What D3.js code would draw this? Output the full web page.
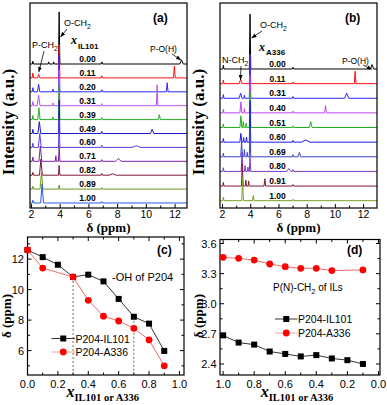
<!DOCTYPE html>
<html>
<head>
<meta charset="utf-8">
<script src="https://d3js.org/d3.v7.min.js"></script>
<style>
  body { margin: 0; background: #fff; }
  svg { display: block; }
  text { font-family: Arial, "Liberation Sans", sans-serif; fill: #000; }
  .serif { font-family: "Times New Roman", "Liberation Serif", serif; font-weight: bold; }
</style>
</head>
<body>
<script>
// ---- data ----
// (a) P204 + IL101 spectra, one list of peaks [ppm, height, half width] per mole fraction
const fracIL = ["0.00", "0.11", "0.20", "0.31", "0.39", "0.49", "0.60", "0.71", "0.82", "0.89", "1.00"];
const colorsIL = ["#000000", "#ff1010", "#2a2aff", "#c050f0", "#20b020", "#1a1acc",
                  "#5a3ee0", "#7a20a8", "#801838", "#6a9a20", "#2a5aee"];
const peaksIL = [
  [[2.1, 0.2, 0.04], [3.2, 0.15, 0.04], [3.55, 0.15, 0.04], [3.93, 3.75, 0.05], [6.9, 0.15, 0.05], [12.45, 0.3, 0.12]],
  [[2.1, 0.35, 0.05], [2.5, 0.25, 0.08], [3.93, 2.4, 0.05], [6.9, 0.15, 0.05], [11.95, 0.85, 0.06]],
  [[2.1, 0.3, 0.05], [2.5, 0.55, 0.08], [3.5, 0.2, 0.04], [3.93, 2.7, 0.05], [6.9, 0.15, 0.05], [11.45, 0.65, 0.06]],
  [[2.1, 0.3, 0.05], [2.5, 0.75, 0.1], [3.5, 0.2, 0.04], [3.93, 2.6, 0.05], [6.9, 0.15, 0.05], [10.75, 1.5, 0.05]],
  [[2.1, 0.3, 0.05], [2.52, 0.85, 0.08], [3.5, 0.2, 0.04], [3.93, 2.5, 0.05], [6.9, 0.15, 0.05], [10.9, 0.35, 0.08]],
  [[2.1, 0.3, 0.05], [2.55, 0.85, 0.1], [3.93, 2.4, 0.05], [6.9, 0.15, 0.05], [10.4, 0.3, 0.12]],
  [[2.1, 0.3, 0.05], [2.58, 1.0, 0.1], [3.93, 2.0, 0.05], [6.9, 0.15, 0.05], [9.3, 0.12, 0.3]],
  [[2.1, 0.3, 0.05], [2.62, 1.1, 0.1], [3.7, 0.4, 0.04], [3.93, 1.1, 0.05], [6.9, 0.12, 0.05], [8.05, 0.2, 0.2]],
  [[2.1, 0.2, 0.05], [2.66, 1.15, 0.1], [3.93, 0.7, 0.05], [6.9, 0.12, 0.05], [7.65, 0.1, 0.25]],
  [[2.1, 0.2, 0.05], [2.7, 1.2, 0.1], [3.93, 0.3, 0.04], [6.9, 0.1, 0.05]],
  [[2.1, 0.2, 0.05], [2.74, 1.35, 0.1], [6.9, 0.1, 0.05]]
];

// (b) P204 + A336 spectra
const fracA = ["0.00", "0.11", "0.31", "0.40", "0.51", "0.60", "0.69", "0.80", "0.91", "1.00"];
const colorsA = ["#000000", "#ff1010", "#2a2aff", "#b848e8", "#20b020", "#1a1aee",
                 "#3a44cc", "#7a38cc", "#801838", "#7aa020"];
const peaksA = [
  [[2.06, 0.25, 0.04], [3.95, 3.75, 0.05], [7.0, 0.12, 0.05], [12.6, 0.3, 0.12]],
  [[2.06, 0.25, 0.04], [3.28, 0.3, 0.1], [3.95, 2.0, 0.05], [7.0, 0.12, 0.05], [11.4, 0.85, 0.06]],
  [[2.06, 0.25, 0.04], [3.28, 0.35, 0.1], [3.55, 0.2, 0.04], [3.95, 3.0, 0.05], [7.0, 0.12, 0.05], [10.8, 0.35, 0.15]],
  [[2.06, 0.25, 0.04], [3.3, 0.75, 0.07], [3.55, 0.3, 0.04], [3.95, 2.6, 0.05], [7.0, 0.12, 0.05], [9.3, 0.5, 0.06]],
  [[2.06, 0.25, 0.04], [3.3, 0.8, 0.07], [3.47, 0.4, 0.04], [3.67, 0.3, 0.04], [3.95, 2.4, 0.05], [7.0, 0.12, 0.05], [8.25, 0.4, 0.1]],
  [[2.06, 0.25, 0.04], [3.3, 0.6, 0.07], [3.5, 0.3, 0.04], [3.7, 0.35, 0.04], [3.95, 2.8, 0.05], [7.0, 0.12, 0.05], [7.9, 0.15, 0.3]],
  [[2.06, 0.25, 0.04], [3.35, 1.0, 0.06], [3.55, 0.5, 0.04], [3.75, 0.3, 0.04], [3.95, 2.0, 0.05], [7.0, 0.15, 0.05], [7.45, 0.3, 0.1]],
  [[2.06, 0.25, 0.04], [3.38, 1.3, 0.06], [3.6, 0.4, 0.04], [3.8, 0.3, 0.04], [3.95, 1.0, 0.05], [6.7, 0.2, 0.15], [7.0, 0.12, 0.05]],
  [[2.06, 0.25, 0.04], [3.4, 1.5, 0.06], [3.65, 0.4, 0.04], [3.85, 0.35, 0.04], [5.0, 0.5, 0.06], [7.0, 0.1, 0.05]],
  [[2.06, 0.25, 0.04], [3.42, 1.6, 0.06], [4.18, 0.35, 0.06], [7.0, 0.1, 0.05]]
];

// (c) -OH shift of P204
const xIL = [0, 0.1, 0.2, 0.3, 0.4, 0.5, 0.6, 0.7, 0.8, 0.9];
const ohIL = [12.6, 12.13, 11.63, 10.83, 10.98, 10.54, 9.39, 8.22, 7.77, 5.98];
const xA = [0, 0.1, 0.3, 0.4, 0.5, 0.6, 0.7, 0.8, 0.9];
const ohA = [12.6, 11.41, 10.83, 9.30, 8.26, 7.94, 7.46, 6.7, 5.0];
const dashX = [[0.3, 10.83], [0.7, 8.22]];

// (d) P(N)-CH2 shift of ILs
const xdIL = [1.0, 0.9, 0.8, 0.7, 0.6, 0.5, 0.4, 0.3, 0.2, 0.1];
const ch2IL = [2.685, 2.613, 2.593, 2.524, 2.50, 2.475, 2.488, 2.455, 2.438, 2.40];
const xdA = [1.0, 0.9, 0.8, 0.7, 0.6, 0.5, 0.4, 0.3, 0.1];
const ch2A = [3.462, 3.452, 3.435, 3.396, 3.369, 3.353, 3.353, 3.33, 3.337];

const ppmTicks = d3.range(2, 13, 1);
const fracTicks = d3.range(0, 1.01, 0.1);
const cTicks = d3.range(5, 14, 1);
const dTicks = d3.range(2.4, 3.61, 0.15);

// ---- drawing ----
const svg = d3.select("body").append("svg").attr("width", 387).attr("height", 405);

svg.append("defs").append("marker")
   .attr("id", "arr").attr("viewBox", "0 0 10 10")
   .attr("refX", 10).attr("refY", 5)
   .attr("markerUnits", "userSpaceOnUse")
   .attr("markerWidth", 5).attr("markerHeight", 5)
   .attr("orient", "auto")
   .append("path").attr("d", "M0,1L10,5L0,9z").attr("fill", "#000");

const arrow = (x1, y1, x2, y2) =>
  svg.append("line").attr("x1", x1).attr("y1", y1).attr("x2", x2).attr("y2", y2)
     .attr("stroke", "#000").attr("stroke-width", 0.8).attr("marker-end", "url(#arr)");

const label = (x, y, str, size, opts = {}) => {
  const t = svg.append("text").attr("x", x).attr("y", y)
               .attr("font-size", size).text(str);
  if (opts.bold) t.attr("font-weight", "bold");
  if (opts.anchor) t.attr("text-anchor", opts.anchor);
  return t;
};

// text with a subscript "2"
const withSub = (x, y, main, sub, size, after) => {
  const t = svg.append("text").attr("x", x).attr("y", y).attr("font-size", size);
  t.append("tspan").text(main);
  t.append("tspan").attr("dy", size * 0.3).attr("font-size", size * 0.75).text(sub);
  if (after) t.append("tspan").attr("dy", -size * 0.3).text(after);
  return t;
};

const frame = (b) =>
  svg.append("rect").attr("x", b.x0).attr("y", b.y0)
     .attr("width", b.x1 - b.x0).attr("height", b.y1 - b.y0)
     .attr("fill", "none").attr("stroke", "#000").attr("stroke-width", 1.2);

function spectra(b, xs, ys, fracs, colors, peaks, labelX) {
  const clip = "clip" + b.x0;
  svg.append("clipPath").attr("id", clip).append("rect")
     .attr("x", b.x0).attr("y", b.y0).attr("width", b.x1 - b.x0).attr("height", b.y1 - b.y0);
  const g = svg.append("g").attr("clip-path", `url(#${clip})`);
  const [lo, hi] = xs.domain();
  const line = d3.line().x(d => xs(d[0])).y(d => ys(d[1]));
  const n = fracs.length;

  peaks.forEach((pk, i) => {
    const off = n - 1 - i;
    const pts = [[lo, off]];
    pk.slice().sort((p, q) => p[0] - q[0]).forEach(([c, h, w]) => {
      pts.push([c - w, off], [c, off + h], [c + w, off]);
    });
    pts.push([hi, off]);
    g.append("path").attr("d", line(pts))
     .attr("fill", "none").attr("stroke", colors[i]).attr("stroke-width", 1);
  });
  fracs.forEach((f, i) => {
    label(xs(labelX), ys(n - 1 - i) - 2, f, 8.5, { bold: true, anchor: "middle" });
  });

  frame(b);
  ppmTicks.forEach(t => {
    const len = t % 2 === 0 ? 4 : 2.5;
    svg.append("line").attr("x1", xs(t)).attr("x2", xs(t))
       .attr("y1", b.y1).attr("y2", b.y1 - len)
       .attr("stroke", "#000").attr("stroke-width", 1);
    if (t % 2 === 0) label(xs(t), b.y1 + 10, t, 10.5, { anchor: "middle" });
  });
  svg.append("text").attr("class", "serif").attr("font-size", 13)
     .attr("x", (b.x0 + b.x1) / 2).attr("y", 232).attr("text-anchor", "middle")
     .text("δ (ppm)");
  svg.append("text").attr("class", "serif").attr("font-size", 17)
     .attr("transform", `translate(${b.x0 - 16},122) rotate(-90)`)
     .attr("text-anchor", "middle").text("Intensity (a.u.)");
}

function xyFrame(b, xs, ys, xt, yt, xMajor, yMajor, yFmt, xFmt) {
  frame(b);
  const tick = (x1, y1, x2, y2) =>
    svg.append("line").attr("x1", x1).attr("y1", y1).attr("x2", x2).attr("y2", y2)
       .attr("stroke", "#000").attr("stroke-width", 1);
  xt.forEach(t => {
    const major = xMajor(t), len = major ? 4 : 2.5, px = xs(t);
    tick(px, b.y1, px, b.y1 - len);
    tick(px, b.y0, px, b.y0 + len);
    if (major) label(px, b.y1 + 12.5, xFmt(t), 11, { anchor: "middle" });
  });
  yt.forEach(t => {
    const major = yMajor(t), len = major ? 4 : 2.5, py = ys(t);
    tick(b.x0, py, b.x0 + len, py);
    tick(b.x1, py, b.x1 - len, py);
    if (major) label(b.x0 - 3.5, py + 4, yFmt(t), 11, { anchor: "end" });
  });
  svg.append("text").attr("class", "serif").attr("font-size", 13)
     .attr("transform", `translate(${b.x0 - 17},316) rotate(-90)`)
     .attr("text-anchor", "middle").text("δ (ppm)");
  const xl = svg.append("text").attr("class", "serif")
     .attr("x", (b.x0 + b.x1) / 2 - 3).attr("y", 397).attr("text-anchor", "middle");
  xl.append("tspan").attr("font-style", "italic").attr("font-size", 16).text("x");
  xl.append("tspan").attr("dy", 4).attr("font-size", 10.5).text("IL101 or A336");
}

function series(xs, ys, xv, yv, lineColor, marker, markColor) {
  const line = d3.line().x((d, i) => xs(xv[i])).y(d => ys(d));
  svg.append("path").attr("d", line(yv)).attr("fill", "none")
     .attr("stroke", lineColor).attr("stroke-width", 1);
  yv.forEach((v, i) => drawMarker(xs(xv[i]), ys(v), marker, markColor));
}

function drawMarker(px, py, marker, color) {
  if (marker === "square") {
    svg.append("rect").attr("x", px - 3).attr("y", py - 3)
       .attr("width", 6).attr("height", 6).attr("fill", color);
  } else {
    svg.append("circle").attr("cx", px).attr("cy", py).attr("r", 3.4).attr("fill", color);
  }
}

function legendRow(x0, x1, y, lineColor, marker, color, text) {
  svg.append("line").attr("x1", x0).attr("x2", x1).attr("y1", y).attr("y2", y)
     .attr("stroke", lineColor).attr("stroke-width", 1);
  drawMarker((x0 + x1) / 2, y, marker, color);
  label(x1 + 0.5, y + 4, text, 10.5);
}

// (a)
const boxA = { x0: 30, x1: 187, y0: 3, y1: 208 };
const xa = d3.scaleLinear().domain([1.9, 12.83]).range([boxA.x0, boxA.x1]);
const ya = d3.scaleLinear().domain([-0.36, 14.39]).range([boxA.y1, boxA.y0]);
spectra(boxA, xa, ya, fracIL, colorsIL, peaksIL, 5.9);
label(153, 22, "(a)", 12, { bold: true });
withSub(64, 26, "O-CH", "2", 9);
arrow(67, 29, 60.5, 37);
withSub(32, 48, "P-CH", "2", 9);
arrow(44, 51, 38.8, 72);
svg.append("text").attr("class", "serif").attr("font-style", "italic")
   .attr("x", 71).attr("y", 44).attr("font-size", 12).text("x");
label(78, 49, "IL101", 8, { bold: true });
label(150, 52, "P-O(H)", 8.5);
arrow(172, 54, 181, 60);

// (b)
const boxB = { x0: 220, x1: 377, y0: 3, y1: 208 };
const xb = d3.scaleLinear().domain([1.82, 12.95]).range([boxB.x0, boxB.x1]);
const yb = d3.scaleLinear().domain([-0.5, 13.51]).range([boxB.y1, boxB.y0]);
spectra(boxB, xb, yb, fracA, colorsA, peaksA, 5.9);
label(345, 22, "(b)", 12, { bold: true });
withSub(260, 28, "O-CH", "2", 9);
arrow(262, 31, 251.5, 38);
svg.append("text").attr("class", "serif").attr("font-style", "italic")
   .attr("x", 259).attr("y", 51).attr("font-size", 12).text("x");
label(266, 55, "A336", 8, { bold: true });
withSub(222, 63, "N-CH", "2", 9);
arrow(241, 66, 240.5, 80);
label(342, 64, "P-O(H)", 8.5);
arrow(363, 65, 372, 69.5);

// (c)
const boxC = { x0: 27.5, x1: 184, y0: 237, y1: 375 };
const xc = d3.scaleLinear().domain([0, 1.03]).range([boxC.x0, boxC.x1]);
const yc = d3.scaleLinear().domain([4.4, 13.45]).range([boxC.y1, boxC.y0]);
const near = (a, b) => Math.abs(a - b) < 1e-6;
xyFrame(boxC, xc, yc, fracTicks, cTicks,
        t => near((t * 10) % 2, 0), t => t % 2 === 0,
        t => t, t => t.toFixed(1));
dashX.forEach(([xv, yv]) => {
  svg.append("line").attr("x1", xc(xv)).attr("x2", xc(xv))
     .attr("y1", yc(yv)).attr("y2", boxC.y1)
     .attr("stroke", "#444").attr("stroke-width", 0.8).attr("stroke-dasharray", "2,2");
});
series(xc, yc, xIL, ohIL, "#333", "square", "#000");
series(xc, yc, xA, ohA, "#f06a6a", "circle", "#ff0000");
label(157, 254, "(c)", 12, { bold: true });
label(112, 281, "-OH of P204", 11);
legendRow(51.5, 75, 338.5, "#333", "square", "#000", "P204-IL101");
legendRow(51.5, 75, 352, "#f4a0a0", "circle", "#ff0000", "P204-A336");

// (d)
const boxD = { x0: 220, x1: 380, y0: 239.5, y1: 375 };
const xd = d3.scaleLinear().domain([1.02, -0.01]).range([boxD.x0, boxD.x1]);
const yd = d3.scaleLinear().domain([2.29, 3.64]).range([boxD.y1, boxD.y0]);
xyFrame(boxD, xd, yd, fracTicks, dTicks,
        t => near((t * 10) % 2, 0), t => near(((t - 2.4) / 0.3) % 1, 0) || near(((t - 2.4) / 0.3) % 1, 1),
        t => t.toFixed(1), t => t.toFixed(1));
series(xd, yd, xdIL, ch2IL, "#333", "square", "#000");
series(xd, yd, xdA, ch2A, "#f06a6a", "circle", "#ff0000");
label(347, 254, "(d)", 12, { bold: true });
withSub(273, 291, "P(N)-CH", "2", 10, " of ILs");
legendRow(275, 297.5, 319, "#333", "square", "#000", "P204-IL101");
legendRow(275, 297.5, 333, "#f4a0a0", "circle", "#ff0000", "P204-A336");
</script>
</body>
</html>
